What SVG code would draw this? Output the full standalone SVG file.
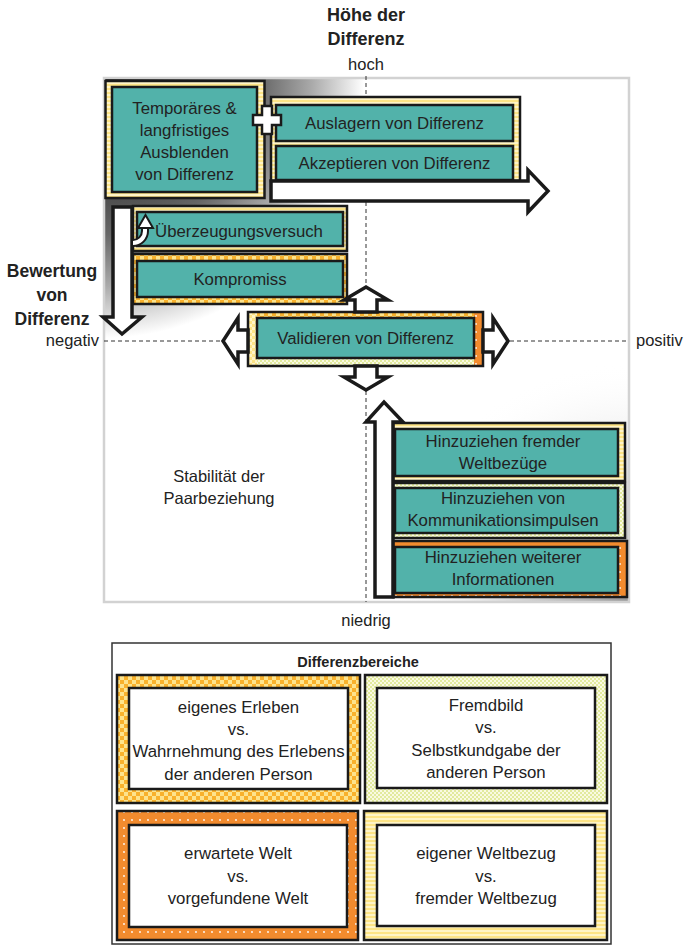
<svg xmlns="http://www.w3.org/2000/svg" width="685" height="947" viewBox="0 0 685 947">
<style>
.t{font-family:"Liberation Sans",Arial,sans-serif;font-size:16.8px;fill:#222;text-anchor:middle}
.b{font-weight:bold}
.teal{fill:#52b2aa;stroke:#1a1a1a;stroke-width:2.5}
.outer{stroke:#1a1a1a;stroke-width:2.5}
.white{fill:#fff;stroke:#1a1a1a;stroke-width:2.5}
.arrow{fill:#fff;stroke:#1a1a1a;stroke-width:3.5;stroke-linejoin:miter}
.axis{stroke:#333;stroke-width:1;stroke-dasharray:4 3;fill:none}
</style>
<defs>
<pattern id="yStripe" width="4" height="4" patternUnits="userSpaceOnUse"><rect width="4" height="4" fill="#fff4c6"/><rect width="4" height="2" fill="#fde486"/></pattern>
<pattern id="yCheck" width="6" height="6" patternUnits="userSpaceOnUse"><rect width="6" height="6" fill="#fff4c6"/><rect width="3" height="3" fill="#fde486"/><rect x="3" y="3" width="3" height="3" fill="#fde486"/></pattern>
<pattern id="oCheck" width="8" height="8" patternUnits="userSpaceOnUse"><rect width="8" height="8" fill="#fde38c"/><rect width="4" height="4" fill="#f8b12c"/><rect x="4" y="4" width="4" height="4" fill="#f8b12c"/></pattern>
<pattern id="gCheck" width="4" height="4" patternUnits="userSpaceOnUse"><rect width="4" height="4" fill="#fafae2"/><rect width="2" height="2" fill="#e2ea9e"/><rect x="2" y="2" width="2" height="2" fill="#e2ea9e"/></pattern>
<pattern id="oDot" width="8" height="8" patternUnits="userSpaceOnUse"><rect width="8" height="8" fill="#f28b2e"/><circle cx="4" cy="4" r="0.9" fill="#fff"/></pattern>
<radialGradient id="tlGrad" gradientUnits="userSpaceOnUse" cx="104" cy="78" r="260"><stop offset="0" stop-color="#000"/><stop offset="0.6" stop-color="#666"/><stop offset="0.8" stop-color="#aaa"/><stop offset="1" stop-color="#fff"/></radialGradient>
<radialGradient id="brGrad" gradientUnits="userSpaceOnUse" cx="629" cy="602" r="240"><stop offset="0" stop-color="#999"/><stop offset="0.5" stop-color="#ccc" stop-opacity="0.7"/><stop offset="1" stop-color="#fff" stop-opacity="0"/></radialGradient>
</defs>
<rect width="685" height="947" fill="#fff"/>

<g id="axes-labels">
<text class="t b" x="366" y="21" style="font-size:18px">Höhe der</text>
<text class="t b" x="366" y="45" style="font-size:18px">Differenz</text>
<text class="t" x="366" y="70" style="font-size:16.5px">hoch</text>
<text class="t b" x="52" y="277" style="font-size:17.5px">Bewertung</text>
<text class="t b" x="52" y="301" style="font-size:17.5px">von</text>
<text class="t b" x="52" y="325" style="font-size:17.5px">Differenz</text>
<text class="t" x="99" y="346" style="font-size:16.5px;text-anchor:end">negativ</text>
<text class="t" x="636" y="346" style="font-size:16.5px;text-anchor:start">positiv</text>
<text class="t" x="366" y="626" style="font-size:16.5px">niedrig</text>
</g>

<g id="frame">
<rect x="104" y="78" width="525" height="524" fill="url(#tlGrad)"/>
<rect x="104" y="78" width="525" height="524" fill="url(#brGrad)"/>
<rect x="104" y="78" width="525" height="524" fill="none" stroke="#d2d2d2" stroke-width="2.5"/>
<line class="axis" x1="366" y1="76" x2="366" y2="602"/>
<line class="axis" x1="104" y1="341" x2="629" y2="341"/>
<text class="t" x="219" y="482" style="font-size:16.5px">Stabilität der</text>
<text class="t" x="219" y="504" style="font-size:16.5px">Paarbeziehung</text>
</g>

<g id="node-temporaer">
<rect class="outer" x="105.5" y="81" width="159" height="117" fill="url(#yStripe)"/>
<rect class="teal" x="112" y="87" width="145" height="105"/>
<text class="t" x="184.5" y="114">Temporäres &amp;</text>
<text class="t" x="184.5" y="136">langfristiges</text>
<text class="t" x="184.5" y="158">Ausblenden</text>
<text class="t" x="184.5" y="180">von Differenz</text>
</g>

<g id="node-auslagern-akzeptieren">
<rect class="outer" x="271" y="97" width="249" height="84" fill="url(#yStripe)"/>
<rect class="teal" x="276" y="105" width="237" height="36"/>
<text class="t" x="394.5" y="129">Auslagern von Differenz</text>
<rect class="teal" x="276" y="146" width="237" height="34"/>
<text class="t" x="394.5" y="169">Akzeptieren von Differenz</text>
</g>

<g id="node-ueberzeugung">
<rect class="outer" x="133" y="206" width="214" height="45" fill="url(#yStripe)"/>
<rect class="teal" x="137" y="212" width="206" height="34"/>
<text class="t" x="239" y="237">Überzeugungsversuch</text>
</g>

<g id="node-kompromiss">
<rect class="outer" x="133" y="254" width="214" height="50" fill="url(#oCheck)"/>
<rect class="teal" x="137" y="261" width="206" height="36"/>
<text class="t" x="240" y="285">Kompromiss</text>
</g>

<g id="node-validieren">
<rect x="248" y="312" width="9" height="54" fill="url(#yCheck)"/>
<rect x="257" y="312" width="217" height="6" fill="url(#oCheck)"/>
<rect x="257" y="358" width="217" height="8" fill="url(#gCheck)"/>
<rect x="474" y="312" width="9" height="54" fill="url(#oDot)"/>
<rect class="outer" x="248" y="312" width="235" height="54" fill="none"/>
<rect class="teal" x="257" y="318" width="217" height="40"/>
<text class="t" x="365.5" y="344">Validieren von Differenz</text>
</g>

<g id="node-fremder">
<rect class="outer" x="393" y="423" width="232" height="58" fill="url(#yStripe)"/>
<rect class="teal" x="395" y="429" width="223" height="47"/>
<text class="t" x="503" y="447">Hinzuziehen fremder</text>
<text class="t" x="503" y="469">Weltbezüge</text>
</g>

<g id="node-kommunikation">
<rect class="outer" x="393" y="483" width="232" height="55" fill="url(#gCheck)"/>
<rect class="teal" x="395" y="488" width="223" height="45"/>
<text class="t" x="503" y="504">Hinzuziehen von</text>
<text class="t" x="503" y="526">Kommunikationsimpulsen</text>
</g>

<g id="node-informationen">
<rect class="outer" x="393" y="541" width="234" height="56" fill="url(#oDot)"/>
<rect class="teal" x="395" y="547" width="223" height="46"/>
<text class="t" x="503" y="563">Hinzuziehen weiterer</text>
<text class="t" x="503" y="585">Informationen</text>
</g>

<g id="connectors">
<polygon class="arrow" points="271,181 528,181 528,170 548,191 528,212 528,201 271,201"/>
<polygon class="arrow" points="113,207 132,207 132,317 142,317 122,334 103,317 113,317"/>
<polygon class="arrow" points="355,312 355,300 344,300 366,287 388,300 377,300 377,312"/>
<polygon class="arrow" points="355,366 355,377 344,377 366,390 388,377 377,377 377,366"/>
<polygon class="arrow" points="248,330 238,330 238,318 223,341 238,364 238,352 248,352"/>
<polygon class="arrow" points="483,330 493,330 493,318 508,341 493,364 493,352 483,352"/>
<polygon class="arrow" points="375,597 375,422 366,422 384,402 403,422 393,422 393,597"/>
<path d="M133 243 A12 12 0 0 0 145 231 L145 228" fill="none" stroke="#1a1a1a" stroke-width="8"/>
<path d="M133 243 A12 12 0 0 0 145 231 L145 228" fill="none" stroke="#fff" stroke-width="4"/>
<polygon points="138,228 145.5,215 153,228" fill="#fff" stroke="#1a1a1a" stroke-width="2"/>
<path d="M262 106 H272 V115 H281 V125 H272 V134 H262 V125 H253 V115 H262 Z" fill="#fff" stroke="#1a1a1a" stroke-width="2.5"/>
</g>

<g id="legend">
<rect x="112" y="643" width="499" height="301" fill="#fff" stroke="#333" stroke-width="1.5"/>
<text class="t b" x="358" y="667" style="font-size:14.5px">Differenzbereiche</text>
<g id="legend-erleben">
<rect class="outer" x="117" y="675" width="243" height="128" fill="url(#oCheck)"/>
<rect class="white" x="129" y="688" width="219" height="101"/>
<text class="t" x="238.5" y="713">eigenes Erleben</text>
<text class="t" x="238.5" y="735">vs.</text>
<text class="t" x="238.5" y="757">Wahrnehmung des Erlebens</text>
<text class="t" x="238.5" y="780">der anderen Person</text>
</g>
<g id="legend-fremdbild">
<rect class="outer" x="365" y="675" width="242" height="128" fill="url(#gCheck)"/>
<rect class="white" x="377" y="688" width="218" height="100"/>
<text class="t" x="486" y="711">Fremdbild</text>
<text class="t" x="486" y="733">vs.</text>
<text class="t" x="486" y="756">Selbstkundgabe der</text>
<text class="t" x="486" y="778">anderen Person</text>
</g>
<g id="legend-welt">
<rect class="outer" x="117" y="811" width="241" height="129" fill="url(#oDot)"/>
<rect class="white" x="129" y="825" width="218" height="102"/>
<text class="t" x="238" y="859">erwartete Welt</text>
<text class="t" x="238" y="882">vs.</text>
<text class="t" x="238" y="904">vorgefundene Welt</text>
</g>
<g id="legend-weltbezug">
<rect class="outer" x="364" y="811" width="243" height="129" fill="url(#yStripe)"/>
<rect class="white" x="377" y="825" width="218" height="101"/>
<text class="t" x="486" y="859">eigener Weltbezug</text>
<text class="t" x="486" y="882">vs.</text>
<text class="t" x="486" y="904">fremder Weltbezug</text>
</g>
</g>
</svg>
